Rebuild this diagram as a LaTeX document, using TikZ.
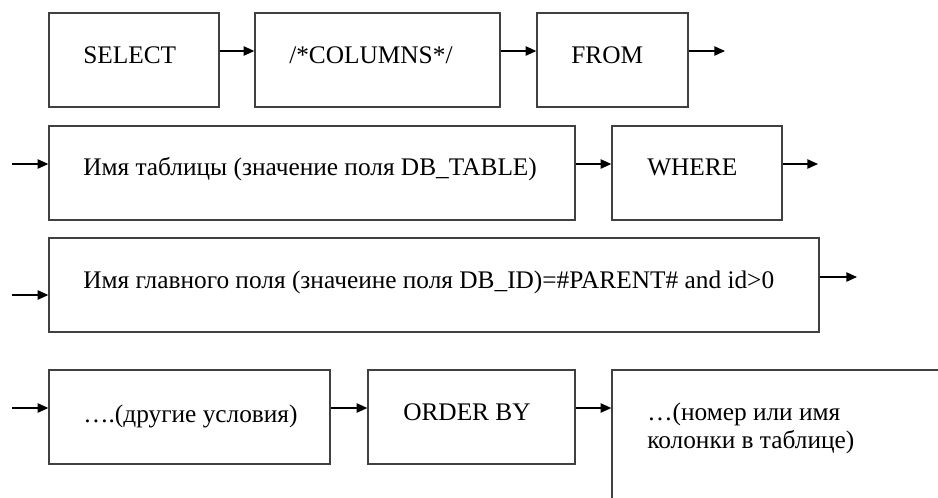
\documentclass[tikz,border=0pt]{standalone}
\usepackage{fontspec}
\setmainfont{Liberation Serif}
\usetikzlibrary{arrows.meta}
\tikzset{>={Triangle[length=8pt,width=7pt]}}
\newdimen\unitpx
\unitpx=0.75pt
\definecolor{frame}{HTML}{404040}
\tikzset{
  blk/.style 2 args={draw=frame, line width=1pt, minimum width=#1\unitpx, minimum height=#2\unitpx, inner sep=0pt},
  lbl/.style={anchor=base west, inner sep=0pt, font=\fontsize{19}{21}\selectfont},
  link/.style={->, draw=black, line width=1pt}
}

\begin{document}
\begin{tikzpicture}[x=0.75pt, y=-0.75pt]
            \fill[white] (0, 0) rectangle (938, 497);
            \useasboundingbox (0, 0) rectangle (938, 497);
            \clip (0, 0) rectangle (938, 497);

            % row 1
            \node [blk={170}{94}] (select) at (134, 60) {};
            \node [blk={245}{94}] (cols) at (377.5, 60) {};
            \node [blk={151}{94}] (from) at (612.5, 60) {};
            % row 2
            \node [blk={526}{94}] (tbl) at (312, 173) {};
            \node [blk={170}{94}] (where) at (697, 173) {};
            % row 3
            \node [blk={770}{94}] (fld) at (434, 285) {};
            % row 4
            \node [blk={281}{94}] (cond) at (189.5, 417) {};
            \node [blk={207}{94}] (order) at (471.5, 417) {};
            \node [blk={340}{140}] (col) at (782, 440) {};

            \node [lbl] (select-t) at (83, 63) {SELECT};
            \node [lbl] (cols-t) at (289, 63) {/*COLUMNS*/};
            \node [lbl] (from-t) at (571, 63) {FROM};
            \node [lbl] (tbl-t) at (83, 175) {Имя таблицы (значение поля DB\_TABLE)};
            \node [lbl] (where-t) at (647, 175) {WHERE};
            \node [lbl] (fld-t) at (83, 288) {Имя главного поля (значеине поля DB\_ID)=\#PARENT\# and id>0};
            \node [lbl] (cond-t) at (83, 422) {….(другие условия)};
            \node [lbl] (order-t) at (403, 420) {ORDER BY};
            \node [lbl, align=left] (col-t) at (647, 448) {…(номер или имя\\колонки в таблице)};

            \coordinate (from-out) at (725, 51);
            \coordinate (tbl-in) at (12, 164);
            \coordinate (where-out) at (818, 164);
            \coordinate (fld-in) at (12, 295);
            \coordinate (fld-out) at (857, 277);
            \coordinate (cond-in) at (12, 408);

            \draw [link] ([yshift=9\unitpx]select.east) -- ([yshift=9\unitpx]cols.west);
            \draw [link] ([yshift=9\unitpx]cols.east) -- ([yshift=9\unitpx]from.west);
            \draw [link] ([yshift=9\unitpx]from.east) -- (from-out);
            \draw [link] (tbl-in) -- ([yshift=9\unitpx]tbl.west);
            \draw [link] ([yshift=9\unitpx]tbl.east) -- ([yshift=9\unitpx]where.west);
            \draw [link] ([yshift=9\unitpx]where.east) -- (where-out);
            \draw [link] (fld-in) -- ([yshift=-10\unitpx]fld.west);
            \draw [link] ([yshift=8\unitpx]fld.east) -- (fld-out);
            \draw [link] (cond-in) -- ([yshift=9\unitpx]cond.west);
            \draw [link] ([yshift=9\unitpx]cond.east) -- ([yshift=9\unitpx]order.west);
            \draw [link] ([yshift=9\unitpx]order.east) -- ([yshift=9\unitpx]order.east -| col.west);
        \end{tikzpicture}
\end{document}
